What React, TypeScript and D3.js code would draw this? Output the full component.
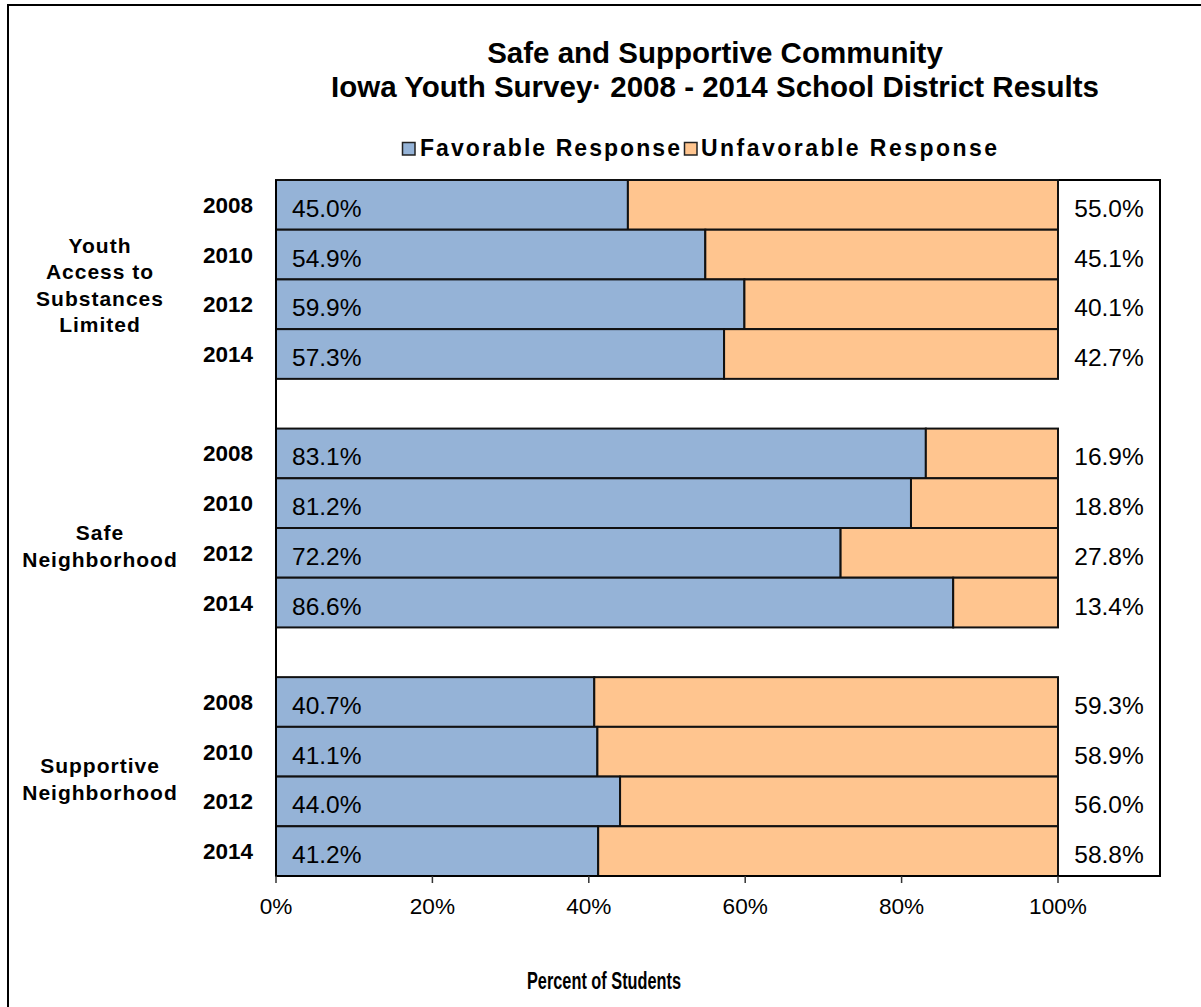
import React from "react";
import * as d3 from "d3";

const titleLines = ["Safe and Supportive Community", "Iowa Youth Survey\u00b7 2008 - 2014 School District Results"];
const seriesNames = ["Favorable Response", "Unfavorable Response"];
const groupLabels = [["Youth", "Access to", "Substances", "Limited"], ["Safe", "Neighborhood"], ["Supportive", "Neighborhood"]];
const years = ["2008", "2010", "2012", "2014"];
const favorable = [
  [45.0, 54.9, 59.9, 57.3],
  [83.1, 81.2, 72.2, 86.6],
  [40.7, 41.1, 44.0, 41.2],
];
const unfavorable = [
  [55.0, 45.1, 40.1, 42.7],
  [16.9, 18.8, 27.8, 13.4],
  [59.3, 58.9, 56.0, 58.8],
];
const xTicks = [0, 20, 40, 60, 80, 100];
const xAxisTitle = "Percent of Students";

const COLORS = ["#95B3D7", "#FFC58F"];
const FONT = "'Liberation Sans', Arial, Helvetica, sans-serif";

export default function App() {
  const W = 1201, H = 1007;
  const plot = { left: 276, top: 180, right: 1160, bottom: 876 };
  const x = d3.scaleLinear().domain([0, 100]).range([plot.left, 1058]);

  const slots: string[] = [];
  groupLabels.forEach((_, g) => {
    years.forEach((_, i) => slots.push(`${g}-${i}`));
    if (g < groupLabels.length - 1) slots.push(`gap-${g}`);
  });
  const y = d3.scaleBand<string>().domain(slots).range([plot.top, plot.bottom]).padding(0);
  const bw = y.bandwidth();

  const groupShift = [5.5, 18, 2.5];
  const lineGap = 26.3;

  return (
    <svg width={W} height={H} style={{ position: "absolute", left: 0, top: 0, background: "#fff" }} fontFamily={FONT}>
      <rect x={0} y={0} width={W} height={H} fill="#fff" />
      <rect x={8} y={5} width={1210} height={1015} fill="none" stroke="#000" strokeWidth={2} />

      {titleLines.map((t, i) => (
        <text key={t} x={715} y={63 + i * 34} textAnchor="middle" fontWeight="bold" fontSize={29.5} fill="#000">{t}</text>
      ))}

      {/* legend */}
      <rect x={402.5} y={142.5} width={12.5} height={12.5} fill={COLORS[0]} stroke="#222" strokeWidth={1.5} />
      <text x={420} y={156} fontWeight="bold" fontSize={23} textLength={260} lengthAdjust="spacing">{seriesNames[0]}</text>
      <rect x={684.5} y={142.5} width={12.5} height={12.5} fill={COLORS[1]} stroke="#222" strokeWidth={1.5} />
      <text x={701} y={156} fontWeight="bold" fontSize={23} textLength={296} lengthAdjust="spacing">{seriesNames[1]}</text>

      {/* plot frame */}
      <rect x={plot.left} y={plot.top} width={plot.right - plot.left} height={plot.bottom - plot.top} fill="#fff" stroke="#000" strokeWidth={2} />

      {groupLabels.map((lines, g) => {
        const yTop = y(`${g}-0`)!;
        const yBot = y(`${g}-${years.length - 1}`)! + bw;
        const center = (yTop + yBot) / 2 + groupShift[g];
        const first = center - ((lines.length - 1) * lineGap) / 2 + 7.5;
        return (
          <g key={g}>
            {lines.map((ln, k) => (
              <text key={k} x={100} y={first + k * lineGap} textAnchor="middle" fontWeight="bold" fontSize={21} letterSpacing={1}>{ln}</text>
            ))}
            {years.map((yr, i) => {
              const key = `${g}-${i}`;
              const y0 = y(key)!;
              const cy = y0 + bw / 2;
              const f = favorable[g][i];
              const u = unfavorable[g][i];
              return (
                <g key={key}>
                  <rect x={x(0)} y={y0} width={x(f) - x(0)} height={bw} fill={COLORS[0]} stroke="#111" strokeWidth={2} />
                  <rect x={x(f)} y={y0} width={x(100) - x(f)} height={bw} fill={COLORS[1]} stroke="#111" strokeWidth={2} />
                  <text x={x(0) + 16} y={cy + 12} fontSize={24.5} fill="#000">{f.toFixed(1)}%</text>
                  <text x={(x(100) + plot.right) / 2} y={cy + 12} fontSize={24.5} textAnchor="middle" fill="#000">{u.toFixed(1)}%</text>
                  <text x={253} y={cy + 8} fontSize={22.5} fontWeight="bold" textAnchor="end" fill="#000">{yr}</text>
                </g>
              );
            })}
          </g>
        );
      })}

      {/* axis lines on top */}
      <line x1={plot.left} x2={plot.left} y1={plot.top} y2={plot.bottom} stroke="#000" strokeWidth={2} />
      <line x1={plot.left} x2={plot.right} y1={plot.bottom} y2={plot.bottom} stroke="#000" strokeWidth={2} />

      {xTicks.map((t) => (
        <g key={t}>
          <line x1={x(t)} x2={x(t)} y1={plot.bottom} y2={plot.bottom + 7} stroke="#333" strokeWidth={1.5} />
          <text x={x(t)} y={914} textAnchor="middle" fontSize={22.6} fill="#000">{t}%</text>
        </g>
      ))}

      <text x={604} y={989} textAnchor="middle" fontWeight="bold" fontSize={23} textLength={154} lengthAdjust="spacingAndGlyphs">{xAxisTitle}</text>
    </svg>
  );
}
